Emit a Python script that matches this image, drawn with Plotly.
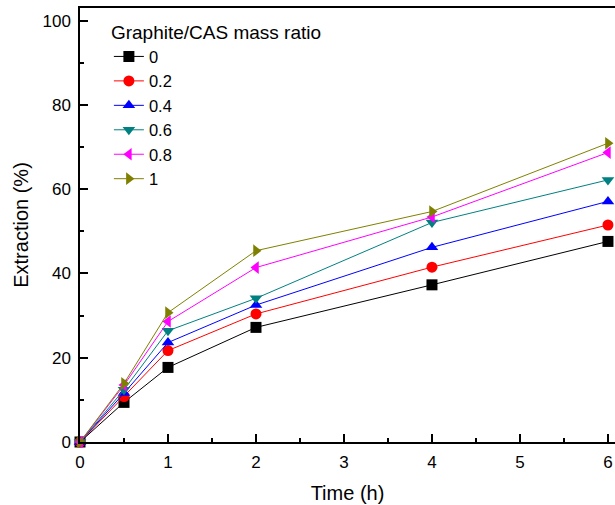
import plotly.graph_objects as go

time_h = [0, 0.5, 1, 2, 4, 6]
ratio_labels = ["0", "0.2", "0.4", "0.6", "0.8", "1"]
ext_0 = [0, 9.4, 17.7, 27.2, 37.3, 47.6]
ext_02 = [0, 10.8, 21.7, 30.4, 41.5, 51.5]
ext_04 = [0, 11.6, 23.6, 32.5, 46.2, 57.1]
ext_06 = [0, 12.4, 26.4, 34.1, 52.1, 62.2]
ext_08 = [0, 13.5, 28.6, 41.4, 53.4, 68.7]
ext_1 = [0, 13.9, 30.7, 45.4, 54.7, 70.9]

series = [ext_0, ext_02, ext_04, ext_06, ext_08, ext_1]
colors = ["#000000", "#FF0000", "#0000FF", "#008080", "#FF00FF", "#808000"]
symbols = ["square", "circle", "triangle-up", "triangle-down", "triangle-left", "triangle-right"]

fig = go.Figure()
for lab, ys, c, s in zip(ratio_labels, series, colors, symbols):
    fig.add_trace(go.Scatter(
        x=time_h, y=ys, name=lab, mode="lines+markers",
        line=dict(color=c, width=1),
        marker=dict(symbol=s, size=11, color=c, line=dict(width=0)),
        cliponaxis=False,
    ))

font = "Liberation Sans, Arial, sans-serif"
fig.update_layout(
    width=615, height=505,
    margin=dict(l=80, r=0, t=8, b=63),
    paper_bgcolor="white", plot_bgcolor="white",
    font=dict(family=font, color="black", size=17),
    showlegend=True,
    legend=dict(
        x=0.054, y=0.985, xanchor="left", yanchor="top",
        bgcolor="rgba(0,0,0,0)",
        font=dict(size=16.5),
        title=dict(text="Graphite/CAS mass ratio", font=dict(size=19)),
        tracegroupgap=0, itemwidth=30,
    ),
    xaxis=dict(
        range=[0, 6.08], tickvals=[0, 1, 2, 3, 4, 5, 6],
        showline=True, linecolor="black", linewidth=1.5, mirror=True,
        ticks="inside", ticklen=8, tickwidth=1.5, tickcolor="black",
        minor=dict(tickvals=[0.5, 1.5, 2.5, 3.5, 4.5, 5.5], ticks="inside", ticklen=4, tickwidth=1.5, tickcolor="black"),
        showgrid=False, zeroline=False,
        tickfont=dict(size=17), ticklabelstandoff=4,
        title=dict(text="Time (h)", font=dict(size=20), standoff=15),
    ),
    yaxis=dict(
        range=[0, 103], tickvals=[0, 20, 40, 60, 80, 100],
        showline=True, linecolor="black", linewidth=1.5, mirror=False,
        ticks="inside", ticklen=8, tickwidth=1.5, tickcolor="black",
        minor=dict(tickvals=[10, 30, 50, 70, 90], ticks="inside", ticklen=4, tickwidth=1.5, tickcolor="black"),
        showgrid=False, zeroline=False,
        tickfont=dict(size=17), ticklabelstandoff=4,
        title=dict(text="Extraction (%)", font=dict(size=20), standoff=8),
    ),
)

fig.write_html("out.html")
